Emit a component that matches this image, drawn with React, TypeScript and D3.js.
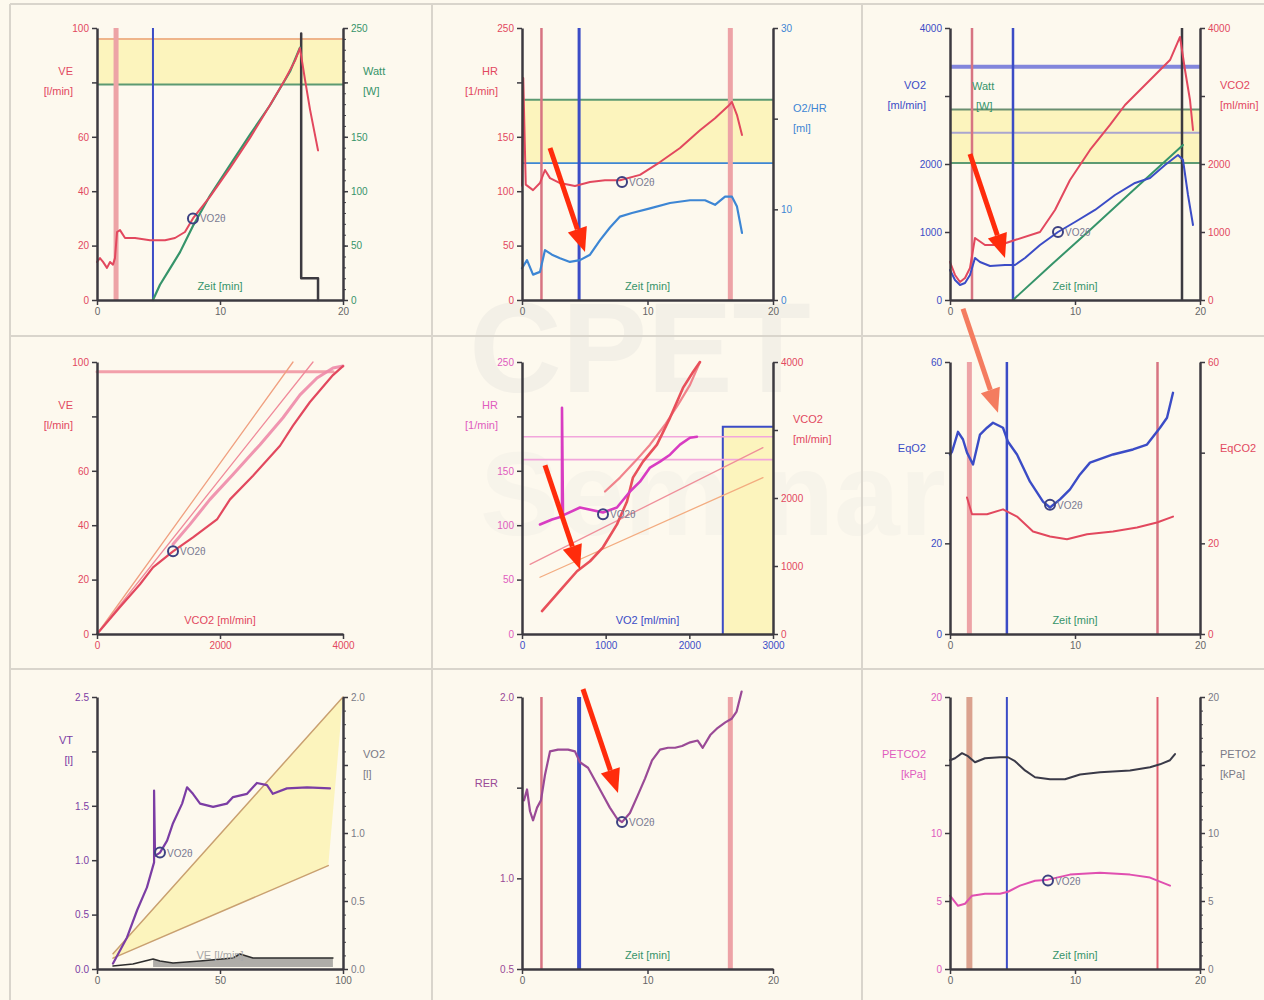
import React, { useEffect, useRef } from "react";
import * as d3 from "d3";

type Pt = [number, number];
type Sel = d3.Selection<SVGGElement, unknown, null, undefined>;
type Scale = d3.ScaleLinear<number, number>;

const WIDTH = 1264;
const HEIGHT = 1000;
const FONT = "'Liberation Sans', Arial, Helvetica, sans-serif";

// panel grid (plot-area origins and sizes)
const COL_X = [97, 522, 950];
const COL_W = [246, 251, 250];
const ROW_Y = [28, 362, 697];
const PLOT_H = 272;
const ARROW_DX = -35;
const ARROW_DY = -104;

const C = {
  bg: "#fdf9ee",
  frame: "#d9d5cc",
  axis: "#3c3a40",
  tick: "#666",
  red: "#e2485e",
  pinkLine: "#ee8aa8",
  magenta: "#d83cc2",
  hrPink: "#e05cbe",
  blue: "#3b4cc6",
  sky: "#3d86d4",
  green: "#36946a",
  hGreen: "#5c9a72",
  purple: "#7b3da4",
  rer: "#9a4a96",
  vRed: "#d77482",
  vRedLight: "#eda3a6",
  vBrown: "#dba28e",
  yellow: "#fcf4bd",
  thrRing: "#3d4282",
  thrText: "#7a7a92",
  arrow: "#ff2c0c",
  arrowSoft: "#f47c5f",
  watermark: "#c4c4c4",
};

// ---------- data ----------
// common phase markers [min]: end of rest, start of ramp, end of exercise
const phaseTimes = [1.55, 4.55, 16.6];
const phaseTimesGas = [1.76, 5.04, 18.56];

// panel 1: ventilation and work rate over time
const veTime: Pt[] = [[0, 14], [0.24, 15.4], [0.49, 14], [0.81, 11.8], [1.06, 14], [1.3, 13], [1.46, 15.4], [1.63, 25], [1.87, 25.7], [2.28, 22.8], [3.09, 22.8], [4.31, 22], [5.53, 22], [6.34, 22.8], [7.15, 25], [7.8, 30], [9.19, 38], [10.81, 48.5], [12.44, 59.6], [14.07, 71.7], [15.28, 81], [16.1, 88], [16.5, 92.6], [16.91, 81], [17.32, 70], [17.97, 55]];
const wattTime: Pt[] = [[4.55, 0], [5.12, 14], [5.94, 29], [6.75, 44], [7.8, 68], [9.19, 96], [10.81, 124], [12.44, 152], [14.07, 179], [15.69, 210], [16.5, 232]];
const loadStep: Pt[] = [[16.6, 245], [16.6, 20], [17.97, 20], [17.97, 0]];
const wattRefBand: [number, number] = [198, 240];
const veThreshold: Pt = [7.8, 30];

// panel 2: heart rate and O2 pulse over time
const hrTime: Pt[] = [[0, 105], [0.1, 204], [0.3, 106], [0.88, 101], [1.43, 107.5], [1.83, 119.5], [2.23, 112], [3.03, 107.5], [4.22, 104.8], [5.42, 108.4], [6.61, 110], [7.81, 110], [9.4, 115], [11.0, 126.8], [12.59, 139.7], [14.18, 156], [15.38, 167], [16.41, 178], [16.73, 182], [17.13, 170], [17.53, 151.6]];
const o2PulseTime: Pt[] = [[0, 3.5], [0.4, 4.4], [0.88, 2.8], [1.43, 3.1], [1.83, 5.5], [2.39, 5.0], [3.03, 4.6], [3.82, 4.2], [4.62, 4.4], [5.42, 5.0], [6.22, 6.6], [7.01, 8.0], [7.81, 9.2], [8.76, 9.6], [10.2, 10.1], [11.79, 10.7], [13.39, 11.0], [14.58, 11.0], [15.38, 10.5], [16.18, 11.4], [16.73, 11.4], [17.13, 10.3], [17.53, 7.4]];
const hrPredMax = 184;
const o2PulsePred = 15.1;
const hrThreshold: Pt = [7.97, 108.5];

// panel 3: VO2, VCO2 and work rate over time
const vo2Time: Pt[] = [[0, 441], [0.4, 294], [0.8, 220], [1.2, 250], [1.6, 368], [2.0, 618], [2.4, 559], [3.2, 500], [4.4, 515], [5.2, 515], [6.0, 618], [7.2, 809], [8.64, 1000], [10, 1147], [11.6, 1324], [13.2, 1544], [14.8, 1721], [16, 1794], [17.2, 1985], [18.24, 2132], [18.64, 2059], [19.04, 1544], [19.44, 1103]];
const vco2Time: Pt[] = [[0, 559], [0.4, 368], [0.8, 265], [1.2, 324], [1.6, 471], [2.0, 912], [2.8, 809], [4.0, 809], [5.2, 882], [7.2, 1000], [8.4, 1324], [9.6, 1765], [11.2, 2206], [12.8, 2574], [14, 2868], [15.2, 3088], [16.4, 3309], [17.6, 3529], [18.4, 3868], [18.8, 3382], [19.2, 2941], [19.44, 2500]];
const wattTimeGas: Pt[] = [[5.04, 0], [8.0, 50], [11.2, 103], [14.4, 157], [18.64, 228]];
const vo2PredMax = 3430;
const wattPredMax = 280;
const vo2Ref1 = 2460;
const vo2Ref2 = 2015;
const vo2Threshold: Pt = [8.64, 1000];

// panel 4: VE vs VCO2
const veVco2Ramp: Pt[] = [[0, 0], [374, 9.9], [699, 18.3], [911, 24.5], [1236, 30.4], [1561, 35.5], [1951, 42.1], [2163, 49.5], [2537, 58.2], [2976, 69.2], [3187, 76.6], [3463, 85.3], [3837, 95.2], [4000, 98.5]];
const veVco2Recovery: Pt[] = [[4000, 98.5], [3837, 97.8], [3577, 94.1], [3301, 87.9], [3024, 79.5], [2650, 69.6], [2211, 58.6], [1837, 49.5], [1512, 40.3], [1236, 33]];
const veSlopeRefA: Pt[] = [[0, 0], [3187, 100]];
const veSlopeRefB: Pt[] = [[0, 0], [3512, 100]];
const veMax: Pt[] = [[0, 96.4], [3840, 96.4]];
const veVco2Threshold: Pt = [1236, 30.4];

// panel 5: HR and VCO2 vs VO2
const vco2Vo2Ramp: Pt[] = [[239, 337], [490, 689], [657, 923], [813, 1070], [968, 1275], [1135, 1612], [1255, 1949], [1326, 2300], [1446, 2535], [1613, 2784], [1769, 3179], [1924, 3619], [2044, 3853], [2127, 4000]];
const vco2Vo2Recovery: Pt[] = [[2127, 4000], [2008, 3663], [1864, 3370], [1709, 3077], [1530, 2784], [1350, 2535], [1171, 2300], [992, 2095]];
const hrVo2: Pt[] = [[215, 100.7], [359, 105.3], [478, 108], [478, 208], [490, 109], [693, 116.3], [968, 111.7], [1135, 116.3], [1291, 131], [1410, 140], [1530, 153], [1649, 158.4], [1769, 164.8], [1888, 174], [2008, 180.4], [2091, 181.3]];
const vslopeRefA: Pt[] = [[96, 1025], [2880, 2740]];
const vslopeRefB: Pt[] = [[215, 835], [2880, 2300]];
const hrRefLines = [181.3, 160.3];
const vo2PredBox: [number, number] = [2400, 190.5];
const hrVo2Threshold: Pt = [968, 110];

// panel 6: ventilatory equivalents over time
const eqO2Time: Pt[] = [[0, 39.6], [0.16, 40.2], [0.64, 44.6], [1.04, 42.9], [1.36, 40], [1.84, 37.4], [2.4, 44], [2.96, 45.5], [3.44, 46.6], [4.24, 45.5], [4.64, 42.4], [5.36, 39.6], [6.4, 33.6], [7.44, 29.2], [8.0, 27.9], [8.8, 29.7], [9.6, 31.9], [10.4, 35.2], [11.2, 37.8], [13.04, 39.6], [14.64, 40.7], [15.76, 41.8], [16.8, 45.5], [17.36, 47.7], [17.84, 53.2]];
const eqCO2Time: Pt[] = [[1.36, 30.1], [1.76, 26.4], [2.96, 26.4], [4.24, 27.5], [5.36, 25.9], [6.64, 22.6], [8.0, 21.5], [9.36, 20.9], [10.96, 22], [13.04, 22.6], [14.96, 23.5], [16.56, 24.6], [17.84, 25.9]];
const eqThreshold: Pt = [8.0, 28.5];

// panel 7: tidal volume vs VE
const vtVe: Pt[] = [[6.5, 0.05], [12.2, 0.29], [16.3, 0.54], [20.3, 0.75], [23.2, 0.98], [23.2, 1.64], [23.6, 1.04], [25.6, 1.07], [28.5, 1.18], [30.9, 1.34], [34.6, 1.52], [36.6, 1.67], [39, 1.61], [41.9, 1.52], [47.2, 1.49], [52.8, 1.52], [55.3, 1.58], [61, 1.61], [65, 1.71], [69.1, 1.69], [71.5, 1.61], [77.2, 1.66], [85.4, 1.67], [94.7, 1.66]];
const vtRefUpper: Pt[] = [[6.5, 0.14], [100, 2.5]];
const vtRefLower: Pt[] = [[6.5, 0.1], [94, 0.95]];
const lowTrace: Pt[] = [[6.5, 0.022], [14.6, 0.037], [22.8, 0.074], [25.6, 0.059], [30.9, 0.044], [41.9, 0.059], [55.3, 0.081], [58.1, 0.11], [63.4, 0.081], [75.6, 0.081], [95.9, 0.081]];
const vtThreshold: Pt = [25.6, 1.07];

// panel 8: RER over time
const rerTime: Pt[] = [[0.16, 1.43], [0.4, 1.49], [0.64, 1.37], [0.88, 1.32], [1.2, 1.39], [1.51, 1.43], [1.83, 1.57], [2.23, 1.7], [2.87, 1.71], [3.67, 1.71], [4.22, 1.7], [4.62, 1.64], [5.26, 1.61], [5.82, 1.54], [6.45, 1.46], [7.0, 1.39], [7.57, 1.33], [7.97, 1.31], [8.6, 1.36], [9.24, 1.46], [9.8, 1.55], [10.36, 1.65], [11.0, 1.71], [11.63, 1.72], [12.2, 1.72], [12.75, 1.73], [13.4, 1.75], [14.0, 1.76], [14.4, 1.72], [15.0, 1.79], [15.6, 1.83], [16.2, 1.86], [16.7, 1.88], [17.1, 1.92], [17.5, 2.03]];
const rerThreshold: Pt = [7.97, 1.31];

// panel 9: end-tidal partial pressures over time
const petO2Time: Pt[] = [[0, 15.35], [0.4, 15.5], [0.96, 15.87], [1.44, 15.65], [2.0, 15.2], [2.8, 15.5], [4.0, 15.57], [4.64, 15.57], [5.2, 15.28], [6.0, 14.6], [6.8, 14.1], [8.0, 13.95], [9.2, 13.95], [10.4, 14.3], [12, 14.46], [14.4, 14.6], [16, 14.83], [16.8, 15.05], [17.6, 15.35], [18, 15.8]];
const petCO2Time: Pt[] = [[0, 5.39], [0.64, 4.65], [1.2, 4.8], [1.76, 5.39], [2.8, 5.53], [4.0, 5.53], [4.64, 5.68], [5.6, 6.13], [6.8, 6.49], [7.84, 6.57], [9.6, 6.94], [12, 7.08], [14.4, 6.94], [16, 6.72], [16.8, 6.42], [17.6, 6.13]];
const petThreshold: Pt = [7.84, 6.5];

// callouts: panel index, scale side and the data point each arrow points to
const callouts: { panel: number; side: "left" | "right"; at: Pt; soft: boolean }[] = [
  { panel: 1, side: "right", at: [5.02, 5.3], soft: false },
  { panel: 2, side: "left", at: [4.4, 617], soft: false },
  { panel: 4, side: "right", at: [693, 952], soft: false },
  { panel: 5, side: "left", at: [3.84, 48.8], soft: true },
  { panel: 7, side: "left", at: [7.65, 1.47], soft: false },
];

// ---------- drawing helpers ----------
interface AxisSpec {
  domain: [number, number];
  ticks: number[];
  color: string;
  title?: string[];
  titleAt?: number;
  digits?: number;
  minor?: number[];
}
interface Ctx { g: Sel; sx: Scale; yl: Scale; yr: Scale; w: number; h: number; }
interface PanelSpec {
  col: number;
  row: number;
  x: AxisSpec;
  left: AxisSpec;
  right?: AxisSpec;
  xTitle?: { text: string; color: string };
  draw: (ctx: Ctx) => void;
}

function path(ctx: Ctx, pts: Pt[], y: Scale, color: string, width: number, opacity = 1) {
  const gen = d3.line<Pt>().x((d) => ctx.sx(d[0])).y((d) => y(d[1]));
  ctx.g.append("path").attr("d", gen(pts) || "").attr("fill", "none")
    .attr("stroke", color).attr("stroke-width", width).attr("opacity", opacity)
    .attr("stroke-linejoin", "round").attr("stroke-linecap", "round");
}
function vline(ctx: Ctx, x: number, color: string, width: number) {
  ctx.g.append("line").attr("x1", ctx.sx(x)).attr("x2", ctx.sx(x)).attr("y1", 0).attr("y2", ctx.h)
    .attr("stroke", color).attr("stroke-width", width);
}
function hline(ctx: Ctx, y: Scale, v: number, color: string, width: number) {
  ctx.g.append("line").attr("x1", 0).attr("x2", ctx.w).attr("y1", y(v)).attr("y2", y(v))
    .attr("stroke", color).attr("stroke-width", width);
}
function band(ctx: Ctx, yTop: number, yBottom: number, color: string) {
  ctx.g.append("rect").attr("x", 0).attr("y", Math.min(yTop, yBottom)).attr("width", ctx.w)
    .attr("height", Math.abs(yBottom - yTop)).attr("fill", color);
}
function threshold(ctx: Ctx, y: Scale, p: Pt) {
  const cx = ctx.sx(p[0]);
  const cy = y(p[1]);
  ctx.g.append("circle").attr("cx", cx).attr("cy", cy).attr("r", 5).attr("fill", "none")
    .attr("stroke", C.thrRing).attr("stroke-width", 2);
  ctx.g.append("text").attr("x", cx + 7).attr("y", cy + 4).attr("font-size", 10)
    .attr("font-family", FONT).attr("fill", C.thrText).text("VO2θ");
}
function phaseLines(ctx: Ctx, t: number[], styles: [string, number][]) {
  t.forEach((v, i) => vline(ctx, v, styles[i][0], styles[i][1]));
}

function drawAxis(g: Sel, scale: Scale, spec: AxisSpec, orient: "left" | "right" | "bottom", w: number, h: number) {
  const f = d3.format(spec.digits ? `.${spec.digits}f` : "d");
  const fmt = (v: d3.NumberValue) => (spec.titleAt !== undefined && +v === spec.titleAt ? "" : f(+v));
  const make = orient === "left" ? d3.axisLeft : orient === "right" ? d3.axisRight : d3.axisBottom;
  const ga = g.append("g");
  if (orient === "right") ga.attr("transform", `translate(${w},0)`);
  if (orient === "bottom") ga.attr("transform", `translate(0,${h})`);
  if (spec.minor) {
    const gm = ga.append("g");
    gm.call(make(scale).tickValues(spec.minor).tickSize(3).tickSizeOuter(0).tickFormat(() => ""));
    gm.select(".domain").remove();
    gm.selectAll(".tick line").attr("stroke", C.axis).attr("stroke-width", 1);
  }
  const gx = ga.append("g");
  gx.call(make(scale).tickValues(spec.ticks).tickSize(5).tickSizeOuter(0).tickPadding(3).tickFormat(fmt));
  gx.attr("font-family", FONT).attr("font-size", 10);
  gx.select(".domain").attr("stroke", C.axis).attr("stroke-width", 2.5);
  gx.selectAll(".tick line").attr("stroke", C.axis).attr("stroke-width", 1.5);
  gx.selectAll(".tick text").attr("fill", spec.color);
  if (spec.title && spec.titleAt !== undefined && orient !== "bottom") {
    const yy = scale(spec.titleAt);
    const n = spec.title.length;
    spec.title.forEach((t, i) => {
      g.append("text")
        .attr("x", orient === "left" ? -24 : w + 20)
        .attr("y", n === 1 ? yy - 1 : yy - 7 + i * 20)
        .attr("text-anchor", orient === "left" ? "end" : "start")
        .attr("font-family", FONT).attr("font-size", 11).attr("fill", spec.color)
        .text(t);
    });
  }
}

const timeAxis: AxisSpec = { domain: [0, 20], ticks: [0, 10, 20], color: C.tick };
const zeit = { text: "Zeit [min]", color: C.green };

// ---------- panels ----------
const panels: PanelSpec[] = [
  {
    col: 0, row: 0, x: timeAxis, xTitle: zeit,
    left: { domain: [0, 100], ticks: [0, 20, 40, 60, 80, 100], color: C.red, title: ["VE", "[l/min]"], titleAt: 80 },
    right: { domain: [0, 250], ticks: [0, 50, 100, 150, 200, 250], color: C.green, title: ["Watt", "[W]"], titleAt: 200, minor: d3.range(0, 251, 10) },
    draw: (c) => {
      band(c, c.yr(wattRefBand[1]), c.yr(wattRefBand[0]), C.yellow);
      hline(c, c.yr, wattRefBand[1], "#efb58a", 2);
      hline(c, c.yr, wattRefBand[0], C.hGreen, 2);
      phaseLines(c, phaseTimes.slice(0, 2), [[C.vRedLight, 5], [C.blue, 2]]);
      path(c, loadStep, c.yr, C.axis, 2.5);
      path(c, wattTime, c.yr, C.green, 2.2);
      path(c, veTime, c.yl, C.red, 2);
      threshold(c, c.yl, veThreshold);
    },
  },
  {
    col: 1, row: 0, x: timeAxis, xTitle: zeit,
    left: { domain: [0, 250], ticks: [0, 50, 100, 150, 200, 250], color: C.red, title: ["HR", "[1/min]"], titleAt: 200 },
    right: { domain: [0, 30], ticks: [0, 10, 20, 30], color: C.sky, title: ["O2/HR", "[ml]"], titleAt: 20 },
    draw: (c) => {
      band(c, c.yl(hrPredMax), c.yr(o2PulsePred), C.yellow);
      hline(c, c.yl, hrPredMax, C.hGreen, 2);
      hline(c, c.yr, o2PulsePred, C.sky, 1.8);
      phaseLines(c, phaseTimes, [[C.vRed, 2.5], [C.blue, 3], [C.vRedLight, 5]]);
      path(c, o2PulseTime, c.yr, C.sky, 2.2);
      path(c, hrTime, c.yl, C.red, 2);
      threshold(c, c.yl, hrThreshold);
    },
  },
  {
    col: 2, row: 0, x: timeAxis, xTitle: zeit,
    left: { domain: [0, 4000], ticks: [0, 1000, 2000, 3000, 4000], color: C.blue, title: ["VO2", "[ml/min]"], titleAt: 3000 },
    right: { domain: [0, 4000], ticks: [0, 1000, 2000, 3000, 4000], color: C.red, title: ["VCO2", "[ml/min]"], titleAt: 3000 },
    draw: (c) => {
      const sw = d3.scaleLinear().domain([0, 400]).range([c.h, 0]);
      band(c, sw(wattPredMax), c.yl(vo2Ref2), C.yellow);
      hline(c, c.yl, vo2PredMax, "#8286dc", 4);
      hline(c, sw, wattPredMax, "#6a8f70", 2);
      hline(c, c.yl, vo2Ref1, "#aaa6cf", 2);
      hline(c, c.yl, vo2Ref2, C.hGreen, 2);
      phaseLines(c, phaseTimesGas, [[C.vRed, 2.5], [C.blue, 2.5], [C.axis, 2.5]]);
      path(c, wattTimeGas, sw, C.green, 2);
      path(c, vco2Time, c.yr, C.red, 2);
      path(c, vo2Time, c.yl, C.blue, 2);
      threshold(c, c.yl, vo2Threshold);
      const tg = c.g.append("g").attr("font-family", FONT).attr("font-size", 11).attr("fill", C.green);
      tg.append("text").attr("x", 22).attr("y", 62).text("Watt");
      tg.append("text").attr("x", 26).attr("y", 82).text("[W]");
    },
  },
  {
    col: 0, row: 1,
    x: { domain: [0, 4000], ticks: [0, 2000, 4000], color: C.red },
    xTitle: { text: "VCO2 [ml/min]", color: C.red },
    left: { domain: [0, 100], ticks: [0, 20, 40, 60, 80, 100], color: C.red, title: ["VE", "[l/min]"], titleAt: 80 },
    draw: (c) => {
      path(c, veMax, c.yl, "#f2a0aa", 3);
      path(c, veSlopeRefA, c.yl, "#f0a080", 1.3);
      path(c, veSlopeRefB, c.yl, "#f08a9a", 1.3);
      path(c, veVco2Recovery, c.yl, C.pinkLine, 3, 0.9);
      path(c, veVco2Ramp, c.yl, C.red, 2.2);
      threshold(c, c.yl, veVco2Threshold);
    },
  },
  {
    col: 1, row: 1,
    x: { domain: [0, 3000], ticks: [0, 1000, 2000, 3000], color: C.blue },
    xTitle: { text: "VO2 [ml/min]", color: C.blue },
    left: { domain: [0, 250], ticks: [0, 50, 100, 150, 200, 250], color: C.hrPink, title: ["HR", "[1/min]"], titleAt: 200 },
    right: { domain: [0, 4000], ticks: [0, 1000, 2000, 3000, 4000], color: C.red, title: ["VCO2", "[ml/min]"], titleAt: 3000 },
    draw: (c) => {
      const bx = c.sx(vo2PredBox[0]);
      const by = c.yl(vo2PredBox[1]);
      c.g.append("rect").attr("x", bx).attr("y", by).attr("width", c.w - bx).attr("height", c.h - by).attr("fill", C.yellow);
      c.g.append("path").attr("d", `M${bx},${c.h}V${by}H${c.w}`).attr("fill", "none").attr("stroke", C.blue).attr("stroke-width", 2);
      hrRefLines.forEach((v) => hline(c, c.yl, v, "#f2a6dc", 1.6));
      path(c, vslopeRefA, c.yr, "#ef8f9a", 1.3);
      path(c, vslopeRefB, c.yr, "#f3ac80", 1.3);
      path(c, vco2Vo2Recovery, c.yr, "#ef6f7a", 2.2, 0.85);
      path(c, vco2Vo2Ramp, c.yr, "#e8505a", 2.6);
      path(c, hrVo2, c.yl, C.magenta, 2.6);
      threshold(c, c.yl, hrVo2Threshold);
    },
  },
  {
    col: 2, row: 1, x: timeAxis, xTitle: zeit,
    left: { domain: [0, 60], ticks: [0, 20, 40, 60], color: C.blue, title: ["EqO2"], titleAt: 40 },
    right: { domain: [0, 60], ticks: [0, 20, 40, 60], color: C.red, title: ["EqCO2"], titleAt: 40 },
    draw: (c) => {
      phaseLines(c, phaseTimes, [[C.vRedLight, 5], [C.blue, 2.5], [C.vRed, 2.5]]);
      path(c, eqCO2Time, c.yr, C.red, 2);
      path(c, eqO2Time, c.yl, C.blue, 2.4);
      threshold(c, c.yl, eqThreshold);
    },
  },
  {
    col: 0, row: 2,
    x: { domain: [0, 100], ticks: [0, 50, 100], color: C.tick },
    xTitle: { text: "VE [l/min]", color: "#a8a8a8" },
    left: { domain: [0, 2.5], ticks: [0, 0.5, 1, 1.5, 2, 2.5], color: C.purple, title: ["VT", "[l]"], titleAt: 2, digits: 1 },
    right: { domain: [0, 2], ticks: [0, 0.5, 1, 1.5, 2], color: "#7a7a86", title: ["VO2", "[l]"], titleAt: 1.5, digits: 1, minor: d3.range(0, 2.01, 0.1) },
    draw: (c) => {
      const poly = [...vtRefUpper, ...vtRefLower.slice().reverse()];
      c.g.append("path")
        .attr("d", (d3.line<Pt>().x((d) => c.sx(d[0])).y((d) => c.yl(d[1])))(poly) + "Z")
        .attr("fill", C.yellow).attr("stroke", "none");
      path(c, vtRefUpper, c.yl, "#c9a070", 1.5);
      path(c, vtRefLower, c.yl, "#c9a070", 1.5);
      const shade = d3.area<Pt>().x((d) => c.sx(d[0])).y0(c.yr(0.015)).y1((d) => c.yr(d[1]));
      c.g.append("path").attr("d", shade(lowTrace.slice(2)) || "").attr("fill", "#6f6f6f").attr("opacity", 0.55);
      path(c, lowTrace, c.yr, "#2e2e2e", 1.6);
      path(c, vtVe, c.yl, C.purple, 2.2);
      threshold(c, c.yl, vtThreshold);
    },
  },
  {
    col: 1, row: 2, x: timeAxis, xTitle: zeit,
    left: { domain: [0.5, 2], ticks: [0.5, 1, 1.5, 2], color: C.rer, title: ["RER"], titleAt: 1.5, digits: 1 },
    draw: (c) => {
      phaseLines(c, phaseTimes, [[C.vRed, 2.5], [C.blue, 4], [C.vRedLight, 5]]);
      path(c, rerTime, c.yl, C.rer, 2.2);
      threshold(c, c.yl, rerThreshold);
    },
  },
  {
    col: 2, row: 2, x: timeAxis, xTitle: zeit,
    left: { domain: [0, 20], ticks: [0, 5, 10, 15, 20], color: C.hrPink, title: ["PETCO2", "[kPa]"], titleAt: 15 },
    right: { domain: [0, 20], ticks: [0, 5, 10, 15, 20], color: "#7a7a86", title: ["PETO2", "[kPa]"], titleAt: 15, minor: d3.range(0, 20.1, 1) },
    draw: (c) => {
      phaseLines(c, phaseTimes, [[C.vBrown, 6], [C.blue, 2], ["#e06070", 2]]);
      path(c, petO2Time, c.yr, "#3a3a48", 2);
      path(c, petCO2Time, c.yl, "#e04fb0", 2);
      threshold(c, c.yl, petThreshold);
    },
  },
];

export default function App() {
  const ref = useRef<SVGSVGElement | null>(null);

  useEffect(() => {
    const svg = d3.select(ref.current);
    svg.selectAll("*").remove();

    svg.append("rect").attr("width", WIDTH).attr("height", HEIGHT).attr("fill", C.bg);

    // faint background lettering
    const wm = svg.append("g").attr("font-family", FONT).attr("font-weight", "bold").attr("fill", C.watermark);
    wm.append("text").attr("x", 640).attr("y", 392).attr("text-anchor", "middle").attr("font-size", 128).attr("opacity", 0.16).text("CPET");
    wm.append("text").attr("x", 480).attr("y", 535).attr("font-size", 118).attr("opacity", 0.09).text("Seminar");

    // frame and cell dividers
    const fr = svg.append("g").attr("stroke", C.frame).attr("stroke-width", 2);
    fr.append("line").attr("x1", 10).attr("x2", WIDTH).attr("y1", 4).attr("y2", 4);
    fr.append("line").attr("x1", 10).attr("x2", 10).attr("y1", 4).attr("y2", HEIGHT);
    [432, 862].forEach((x) => fr.append("line").attr("x1", x).attr("x2", x).attr("y1", 4).attr("y2", HEIGHT));
    [336, 669].forEach((y) => fr.append("line").attr("x1", 10).attr("x2", WIDTH).attr("y1", y).attr("y2", y));

    const scales: { x0: number; y0: number; sx: Scale; yl: Scale; yr: Scale }[] = [];

    panels.forEach((p) => {
      const x0 = COL_X[p.col];
      const y0 = ROW_Y[p.row];
      const w = COL_W[p.col];
      const h = PLOT_H;
      const g = svg.append("g").attr("transform", `translate(${x0},${y0})`) as unknown as Sel;
      const sx = d3.scaleLinear().domain(p.x.domain).range([0, w]);
      const yl = d3.scaleLinear().domain(p.left.domain).range([h, 0]);
      const yr = p.right ? d3.scaleLinear().domain(p.right.domain).range([h, 0]) : yl;
      scales.push({ x0, y0, sx, yl, yr });
      const layer = g.append("g") as unknown as Sel;
      p.draw({ g: layer, sx, yl, yr, w, h });
      if (p.xTitle) {
        g.append("text").attr("x", w / 2).attr("y", h - 10).attr("text-anchor", "middle")
          .attr("font-family", FONT).attr("font-size", 11).attr("fill", p.xTitle.color).text(p.xTitle.text);
      }
      drawAxis(g, sx, p.x, "bottom", w, h);
      drawAxis(g, yl, p.left, "left", w, h);
      if (p.right) drawAxis(g, yr, p.right, "right", w, h);
    });

    // arrows pointing at the points of interest
    const ag = svg.append("g");
    callouts.forEach((cl) => {
      const s = scales[cl.panel];
      const tipX = s.x0 + s.sx(cl.at[0]);
      const tipY = s.y0 + (cl.side === "left" ? s.yl : s.yr)(cl.at[1]);
      const tx = tipX + ARROW_DX;
      const ty = tipY + ARROW_DY;
      const ang = Math.atan2(tipY - ty, tipX - tx);
      const headLen = 24;
      const headW = 10;
      const bx = tipX - headLen * Math.cos(ang);
      const by = tipY - headLen * Math.sin(ang);
      const color = cl.soft ? C.arrowSoft : C.arrow;
      ag.append("line").attr("x1", tx).attr("y1", ty).attr("x2", bx).attr("y2", by)
        .attr("stroke", color).attr("stroke-width", 5);
      const px = Math.sin(ang) * headW;
      const py = Math.cos(ang) * headW;
      ag.append("polygon")
        .attr("points", `${tipX},${tipY} ${bx + px},${by - py} ${bx - px},${by + py}`)
        .attr("fill", color);
    });
  }, []);

  return (
    <svg
      ref={ref}
      width={WIDTH}
      height={HEIGHT}
      viewBox={`0 0 ${WIDTH} ${HEIGHT}`}
      style={{ position: "absolute", left: 0, top: 0, display: "block" }}
    />
  );
}
